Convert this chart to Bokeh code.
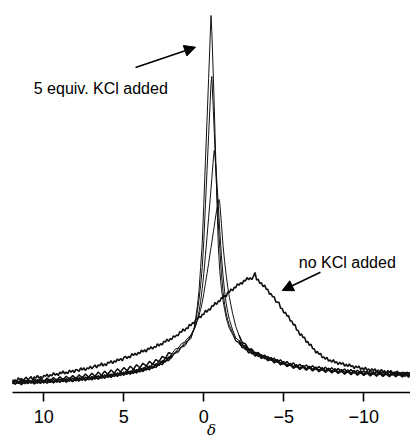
from bokeh.plotting import figure
from bokeh.models import Range1d, FixedTicker, Label, Arrow, NormalHead
from bokeh.embed import file_html
from bokeh.resources import INLINE

# chemical shift grid (ppm) for the four narrow spectra
DELTA_LEFT = [12.0, 11.8, 11.6, 11.4, 11.2, 11.0, 10.8, 10.6, 10.4, 10.2,
              10.0, 9.8, 9.6, 9.4, 9.2, 9.0, 8.8, 8.6, 8.4, 8.2,
              8.0, 7.8, 7.6, 7.4, 7.2, 7.0, 6.8, 6.6, 6.4, 6.2,
              6.0, 5.8, 5.6, 5.4, 5.2, 5.0, 4.8, 4.6, 4.4, 4.2,
              4.0, 3.8, 3.6, 3.4, 3.2, 3.0, 2.8, 2.6, 2.4, 2.2, 2.0]
DELTA_PEAK = [1.8, 1.6, 1.4, 1.2, 1.0, 0.8, 0.6, 0.5, 0.4, 0.3,
              0.2, 0.1, 0.0, -0.1, -0.2, -0.3, -0.4, -0.45, -0.5, -0.6,
              -0.65, -0.7, -0.8, -0.9, -0.95, -1.0, -1.1, -1.2, -1.3, -1.4,
              -1.5, -1.6, -1.8, -2.0]
DELTA_RIGHT = [-2.2, -2.4, -2.6, -2.8, -3.0, -3.2, -3.4, -3.6, -3.8, -4.0,
               -4.2, -4.4, -4.6, -4.8, -5.0, -5.2, -5.4, -5.6, -5.8, -6.0,
               -6.2, -6.4, -6.6, -6.8, -7.0, -7.2, -7.4, -7.6, -7.8, -8.0,
               -8.2, -8.4, -8.6, -8.8, -9.0, -9.2, -9.4, -9.6, -9.8, -10.0,
               -10.2, -10.4, -10.6, -10.8, -11.0, -11.2, -11.4, -11.6, -11.8, -12.0,
               -12.2, -12.4, -12.6, -12.8, -13.0]

# spectrum A: 5 equiv. KCl added (tallest, sharpest)
A_LEFT = [1.8, -0.6, 1.5, -1.2, 2.1, 0.0, 2.3, -0.4, 1.9, 0.2,
          3.0, 0.3, 2.8, 0.6, 3.6, 1.2, 4.1, 1.3, 3.9, 1.9,
          4.6, 2.4, 5.9, 2.9, 6.1, 3.6, 6.8, 4.3, 7.5, 5.2,
          8.4, 6.0, 9.3, 7.1, 10.2, 8.3, 11.4, 9.4, 12.6, 10.6,
          13.9, 12.0, 15.3, 13.8, 17.1, 15.9, 19.8, 19.0, 23.1, 22.9, 27.2]
A_PEAK = [30.2, 31.1, 36.3, 37.2, 42.1, 45.3, 56, 66, 78, 93,
          116, 140, 180, 222, 263, 305, 348, 368, 352, 305,
          278, 250, 195, 140, 125, 112, 95, 83, 74, 66,
          60, 55, 49.2, 42.1]
A_RIGHT = [41.3, 35.9, 35.8, 30.7, 31.4, 27.5, 29.0, 25.1, 26.6, 22.8,
           24.4, 20.7, 22.5, 18.6, 20.3, 16.9, 18.8, 15.2, 17.4, 14.1,
           16.6, 13.4, 15.9, 12.6, 15.0, 11.8, 14.3, 11.2, 13.8, 10.6,
           13.1, 10.0, 12.5, 9.4, 12.0, 8.8, 11.5, 8.4, 11.1, 8.0,
           10.7, 7.6, 10.3, 7.3, 10.1, 7.1, 9.9, 6.9, 9.8, 6.7,
           9.6, 6.5, 9.5, 6.4, 9.2]

# spectrum B
B_LEFT = [-0.5, 2.4, 0.1, 2.6, -0.2, 3.0, 0.4, 2.9, 0.2, 3.5,
          0.6, 3.7, 1.1, 4.0, 1.4, 4.5, 1.9, 4.6, 2.3, 5.3,
          2.6, 5.8, 3.2, 6.3, 3.8, 6.9, 4.4, 7.8, 5.1, 8.6,
          6.1, 9.4, 7.0, 10.6, 7.9, 11.5, 9.2, 12.4, 10.1, 13.9,
          11.5, 15.6, 13.4, 17.5, 15.2, 19.6, 18.0, 22.7, 21.6, 26.4, 25.7]
B_PEAK = [31.4, 32.2, 37.1, 38.6, 43.0, 46.4, 55, 63, 73, 84,
          98, 116, 143, 178, 213, 248, 283, 300, 307, 272,
          252, 232, 196, 163, 148, 135, 110, 92, 79, 70,
          63, 58, 50.8, 43.4]
B_RIGHT = [39.8, 39.5, 34.0, 34.6, 29.7, 31.2, 27.0, 28.9, 24.8, 27.1,
           23.0, 25.3, 21.2, 23.6, 19.4, 22.0, 17.9, 20.6, 16.5, 19.3,
           15.8, 18.5, 15.0, 17.7, 14.2, 17.0, 13.5, 16.3, 12.9, 15.7,
           12.3, 15.0, 11.6, 14.4, 11.0, 13.9, 10.5, 13.3, 10.1, 12.8,
           9.6, 12.4, 9.3, 12.1, 9.0, 11.8, 8.8, 11.6, 8.6, 11.4,
           8.4, 11.2, 8.3, 11.0, 8.1]

# spectrum C
C_LEFT = [2.9, -0.3, 2.2, 0.1, 3.1, 0.5, 2.6, 0.2, 3.9, 0.9,
          3.2, 1.0, 4.3, 1.4, 4.2, 1.6, 4.8, 2.3, 5.4, 2.7,
          5.9, 3.1, 6.6, 3.9, 6.8, 4.2, 7.9, 5.1, 8.4, 6.0,
          9.7, 7.1, 10.8, 8.0, 11.6, 9.2, 12.9, 10.6, 14.3, 12.0,
          15.7, 13.6, 17.4, 15.3, 19.6, 17.8, 22.0, 20.9, 25.4, 24.8, 29.3]
C_PEAK = [30.5, 34.8, 36.2, 40.9, 42.6, 48.7, 54, 58, 64, 72,
          82, 95, 110, 128, 147, 166, 185, 195, 205, 225,
          233, 228, 206, 180, 166, 152, 128, 108, 92, 80,
          71, 64, 53.6, 45.5]
C_RIGHT = [43.0, 38.1, 37.6, 32.9, 33.3, 29.4, 30.1, 26.6, 27.9, 24.1,
           25.5, 22.0, 23.4, 20.1, 21.6, 18.0, 19.9, 16.6, 18.6, 15.3,
           17.8, 14.5, 17.1, 13.9, 16.4, 13.1, 15.7, 12.6, 15.1, 12.0,
           14.6, 11.4, 14.0, 10.9, 13.5, 10.3, 13.0, 9.9, 12.6, 9.5,
           12.2, 9.1, 11.8, 8.8, 11.5, 8.6, 11.3, 8.4, 11.1, 8.2,
           10.9, 8.0, 10.7, 7.9, 10.5]

# spectrum D
D_LEFT = [-0.2, 3.1, 0.6, 3.6, 0.9, 4.0, 1.2, 4.5, 1.7, 4.9,
          2.1, 5.4, 2.4, 6.0, 3.0, 6.7, 3.8, 7.3, 4.2, 7.9,
          4.9, 8.6, 5.5, 9.4, 6.3, 10.3, 7.2, 11.4, 8.1, 12.3,
          9.2, 13.5, 10.4, 14.6, 11.7, 15.9, 12.8, 17.2, 14.3, 18.7,
          15.8, 20.3, 17.4, 22.1, 19.3, 23.9, 21.8, 27.1, 25.2, 30.8, 29.6]
D_PEAK = [34.1, 35.4, 39.8, 41.3, 45.6, 48.5, 55, 59, 63, 68,
          74, 81, 90, 100, 110, 120, 131, 136, 141, 152,
          157, 163, 173, 181, 184, 180, 160, 138, 122, 108,
          96, 86, 70, 57]
D_RIGHT = [48.2, 40.9, 39.7, 34.3, 34.4, 30.0, 31.1, 27.2, 28.3, 24.6,
           25.9, 22.2, 23.7, 20.1, 21.7, 18.3, 20.1, 16.6, 18.5, 15.2,
           17.6, 14.4, 16.9, 13.5, 16.1, 12.8, 15.4, 12.1, 14.7, 11.6,
           14.1, 11.0, 13.6, 10.4, 13.1, 9.9, 12.5, 9.4, 12.1, 9.1,
           11.7, 8.8, 11.4, 8.5, 11.1, 8.3, 10.9, 8.1, 10.7, 7.9,
           10.5, 7.8, 7.6, 10.3, 7.5]

# spectrum E: no KCl added (broad), sampled every 0.1 ppm
E_DELTA = [12.0, 11.9, 11.8, 11.7, 11.6, 11.5, 11.4, 11.3, 11.2, 11.1,
           11.0, 10.9, 10.8, 10.7, 10.6, 10.5, 10.4, 10.3, 10.2, 10.1,
           10.0, 9.9, 9.8, 9.7, 9.6, 9.5, 9.4, 9.3, 9.2, 9.1,
           9.0, 8.9, 8.8, 8.7, 8.6, 8.5, 8.4, 8.3, 8.2, 8.1,
           8.0, 7.9, 7.8, 7.7, 7.6, 7.5, 7.4, 7.3, 7.2, 7.1,
           7.0, 6.9, 6.8, 6.7, 6.6, 6.5, 6.4, 6.3, 6.2, 6.1,
           6.0, 5.9, 5.8, 5.7, 5.6, 5.5, 5.4, 5.3, 5.2, 5.1,
           5.0, 4.9, 4.8, 4.7, 4.6, 4.5, 4.4, 4.3, 4.2, 4.1,
           4.0, 3.9, 3.8, 3.7, 3.6, 3.5, 3.4, 3.3, 3.2, 3.1,
           3.0, 2.9, 2.8, 2.7, 2.6, 2.5, 2.4, 2.3, 2.2, 2.1,
           2.0, 1.9, 1.8, 1.7, 1.6, 1.5, 1.4, 1.3, 1.2, 1.1,
           1.0, 0.9, 0.8, 0.7, 0.6, 0.5, 0.4, 0.3, 0.2, 0.1,
           0.0, -0.1, -0.2, -0.3, -0.4, -0.5, -0.6, -0.7, -0.8, -0.9,
           -1.0, -1.1, -1.2, -1.3, -1.4, -1.5, -1.6, -1.7, -1.8, -1.9,
           -2.0, -2.1, -2.2, -2.3, -2.4, -2.5, -2.6, -2.7, -2.8, -2.9,
           -3.0, -3.1, -3.2, -3.3, -3.4, -3.5, -3.6, -3.7, -3.8, -3.9,
           -4.0, -4.1, -4.2, -4.3, -4.4, -4.5, -4.6, -4.7, -4.8, -4.9,
           -5.0, -5.1, -5.2, -5.3, -5.4, -5.5, -5.6, -5.7, -5.8, -5.9,
           -6.0, -6.1, -6.2, -6.3, -6.4, -6.5, -6.6, -6.7, -6.8, -6.9,
           -7.0, -7.1, -7.2, -7.3, -7.4, -7.5, -7.6, -7.7, -7.8, -7.9,
           -8.0, -8.1, -8.2, -8.3, -8.4, -8.5, -8.6, -8.7, -8.8, -8.9,
           -9.0, -9.1, -9.2, -9.3, -9.4, -9.5, -9.6, -9.7, -9.8, -9.9,
           -10.0, -10.1, -10.2, -10.3, -10.4, -10.5, -10.6, -10.7, -10.8, -10.9,
           -11.0, -11.1, -11.2, -11.3, -11.4, -11.5, -11.6, -11.7, -11.8, -11.9,
           -12.0, -12.1, -12.2, -12.3, -12.4, -12.5, -12.6, -12.7, -12.8, -12.9,
           -13.0]
E_VALUES = [4.2, 2.4, 3.7, 2.1, 5.7, 3.6, 5.1, 2.7, 4.8, 6.2,
            3.9, 4.9, 7.0, 3.7, 6.5, 5.4, 8.0, 5.2, 7.0, 5.2,
            8.1, 7.1, 9.3, 6.5, 8.8, 7.5, 10.8, 8.4, 9.9, 7.9,
            11.3, 9.8, 12.5, 9.6, 11.4, 9.9, 13.3, 11.2, 13.2, 11.0,
            14.0, 13.4, 12.2, 15.7, 13.6, 15.7, 12.9, 15.6, 14.6, 17.3,
            14.8, 16.7, 18.5, 15.7, 18.5, 17.6, 20.5, 17.5, 19.8, 17.8,
            21.4, 20.3, 22.9, 19.9, 22.7, 21.5, 24.5, 22.9, 25.1, 22.6,
            25.8, 27.2, 25.0, 27.2, 25.7, 30.0, 28.1, 30.2, 28.4, 31.0,
            29.9, 33.4, 31.5, 33.7, 31.6, 35.3, 34.3, 36.9, 34.3, 36.9,
            36.1, 39.7, 37.4, 39.8, 38.6, 42.2, 41.4, 44.4, 42.1, 44.9,
            44.0, 47.7, 46.4, 48.6, 47.7, 51.9, 51.1, 54.6, 52.4, 55.5,
            54.9, 59.1, 57.9, 61.0, 59.8, 64.2, 64.1, 67.4, 65.7, 69.1,
            69.0, 73.2, 71.4, 74.5, 73.5, 77.8, 77.4, 80.9, 79.0, 82.4,
            82.0, 86.0, 85.1, 88.2, 86.8, 91.4, 91.2, 94.5, 92.7, 96.1,
            95.9, 99.8, 98.2, 100.9, 99.4, 103.3, 102.5, 105.9, 103.8, 105.8,
            103.9, 107.1, 111.0, 103.6, 104.2, 100.1, 100.8, 96.8, 98.4, 94.4,
            94.1, 89.2, 89.9, 86.7, 86.7, 81.5, 81.4, 81.0, 75.2, 75.0,
            70.4, 71.3, 67.6, 67.8, 62.6, 62.5, 58.6, 58.9, 53.5, 53.0,
            48.2, 49.6, 46.1, 46.2, 41.3, 41.9, 38.1, 39.3, 34.9, 34.8,
            30.4, 32.1, 29.1, 30.2, 25.8, 26.6, 24.3, 26.3, 22.3, 23.6,
            21.3, 23.9, 20.7, 21.7, 18.8, 21.4, 19.2, 20.8, 17.3, 19.2,
            16.9, 19.5, 16.8, 17.9, 14.9, 17.5, 15.7, 17.4, 14.0, 15.6,
            13.8, 16.4, 13.1, 14.6, 12.1, 14.8, 12.8, 14.7, 11.3, 13.4,
            11.4, 14.0, 11.3, 12.8, 9.9, 12.9, 11.0, 12.9, 9.5, 11.4,
            9.6, 12.5, 9.2, 10.9, 8.5, 11.3, 9.5, 11.4, 8.2, 10.4,
            8.5]

TICKS = [10, 5, 0, -5, -10]
TICK_LABELS = ["10", "5", "0", "\u22125", "\u221210"]

DELTA = DELTA_LEFT + DELTA_PEAK + DELTA_RIGHT
NARROW = [
    (A_LEFT, A_PEAK, A_RIGHT),
    (B_LEFT, B_PEAK, B_RIGHT),
    (C_LEFT, C_PEAK, C_RIGHT),
    (D_LEFT, D_PEAK, D_RIGHT),
]

FONT = "Liberation Sans"
INK = "#111111"

p = figure(width=410, height=441,
           x_range=Range1d(11.96, -12.92), y_range=Range1d(-9, 383),
           output_backend="svg", toolbar_location=None,
           y_axis_location=None,
           min_border_left=12, min_border_right=0,
           min_border_top=0, min_border_bottom=49)
p.xgrid.visible = False
p.ygrid.visible = False
p.outline_line_color = None
p.background_fill_color = "white"
p.border_fill_color = "white"

for left, peak, right in NARROW:
    # whole spectrum as a thin trace
    p.line(DELTA, left + peak + right, line_color=INK, line_width=1.0)
    # noisy baseline wings drawn a little heavier, as in the scan
    p.line(DELTA_LEFT, left, line_color=INK, line_width=1.5)
    p.line(DELTA_RIGHT, right, line_color=INK, line_width=1.5)

p.line(E_DELTA, E_VALUES, line_color=INK, line_width=1.6)

ax = p.xaxis[0]
ax.ticker = FixedTicker(ticks=TICKS, minor_ticks=[])
ax.major_label_overrides = {t: l for t, l in zip(TICKS, TICK_LABELS)}
ax.axis_line_width = 1.6
ax.axis_line_color = "black"
ax.major_tick_line_width = 1.6
ax.major_tick_line_color = "black"
ax.major_tick_out = 9
ax.major_tick_in = 0
ax.minor_tick_out = 0
ax.minor_tick_in = 0
ax.major_label_text_font = FONT
ax.major_label_text_font_size = "18px"
ax.major_label_text_color = "black"
ax.major_label_standoff = 8
ax.axis_label = "\u03b4"
ax.axis_label_text_font = "DejaVu Serif"
ax.axis_label_text_font_style = "italic"
ax.axis_label_text_font_size = "15px"
ax.axis_label_text_color = "black"
ax.axis_label_standoff = -5

p.add_layout(Arrow(end=NormalHead(size=11, fill_color="black", line_color="black"),
                   x_start=4.27, y_start=316, x_end=0.52, y_end=336.3,
                   line_color="black", line_width=1.6))
p.add_layout(Arrow(end=NormalHead(size=11, fill_color="black", line_color="black"),
                   x_start=-7.29, y_start=111.3, x_end=-4.9, y_end=93,
                   line_color="black", line_width=1.6))

p.add_layout(Label(x=10.63, y=294.7, text="5 equiv. KCl added",
                   text_font=FONT, text_font_size="16px", text_color="black",
                   text_align="left", text_baseline="alphabetic"))
p.add_layout(Label(x=-5.94, y=121.5, text="no KCl added",
                   text_font=FONT, text_font_size="16px", text_color="black",
                   text_align="left", text_baseline="alphabetic"))

open("out.html", "w").write(file_html(p, INLINE))
